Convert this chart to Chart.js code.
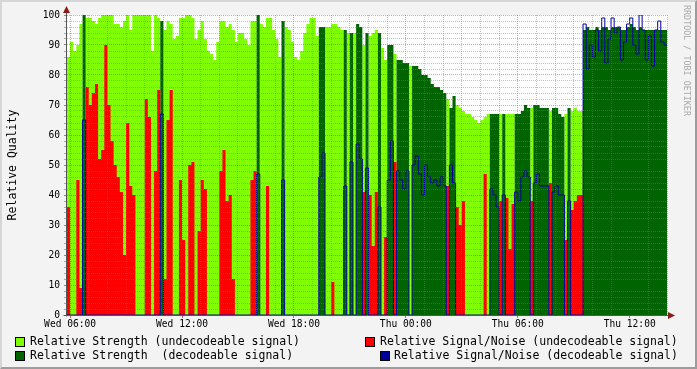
<!DOCTYPE html>
<html>
<head>
<meta charset="utf-8">
<script src="https://cdn.jsdelivr.net/npm/chart.js@4.4.1/dist/chart.umd.min.js"></script>
<style>
  html, body { margin: 0; padding: 0; background: #f3f3f3; }
  #wrap { position: relative; width: 697px; height: 369px; overflow: hidden; background: #f3f3f3; font-family: 'DejaVu Sans Mono', monospace; }
  #c { position: absolute; left: 0; top: 0; }
  .frame { position: absolute; left: 0; top: 0; width: 697px; height: 369px; box-sizing: border-box;
           border-top: 2px solid #d6d6d6; border-left: 2px solid #d6d6d6; border-right: 2px solid #9c9c9c; border-bottom: 2px solid #9c9c9c; pointer-events: none; }
  .ytitle { position: absolute; left: -88px; top: 157px; width: 200px; height: 16px; line-height: 16px; text-align: center;
            font-size: 11.5px; color: #000; transform: rotate(-90deg); transform-origin: 100px 8px; white-space: pre; }
  .credit { position: absolute; left: 692px; top: 5px; font-size: 8.4px; line-height: 10px; color: #a8a8a8; white-space: pre;
            transform: rotate(90deg); transform-origin: 0 0; }
  .leg { position: absolute; font-size: 11.5px; line-height: 14px; color: #000; white-space: pre; }
  .box { position: absolute; width: 8px; height: 8px; border: 1px solid #000; }
</style>
</head>
<body>
<div id="wrap">
  <canvas id="c" width="697" height="369"></canvas>
  <div class="ytitle">Relative Quality</div>
  <div class="credit">RRDTOOL / TOBI OETIKER</div>
  <div id="legend"></div>
  <div class="frame"></div>
</div>
<script>
// ---- data (10-minute samples starting Wed 05:50) ----
const startHour = 5 + 50 / 60;   // hours since Wed 00:00
const stepHours = 10 / 60;

const strength = [
  86, 91, 88, 90, 97,100, 99, 99, 98, 97, 99,100,100,100,100, 97, 97, 96, 98,100,
  95,100,100,100,100,100,100, 88,100, 99, 98, 95, 98, 97, 92, 93, 99, 99,100,100,
  99, 92, 95, 98, 92, 88, 87, 85, 91, 98, 98, 96, 97, 95, 91, 94, 94, 92, 90, 98,
  98,100, 97, 96, 99, 99, 95, 92, 86, 98, 96, 95, 91, 86, 85, 88, 94, 97, 99, 99,
  93, 96, 96, 96, 96, 97, 97, 96, 95, 95, 94, 94, 94, 97, 96, 90, 94, 93, 94, 95,
  94, 89, 85, 90, 90, 87, 85, 85, 84, 84, 83, 83, 83, 82, 80, 80, 79, 77, 76, 76,
  75, 74, 72, 69, 73, 70, 69, 68, 67, 67, 66, 65, 64, 65, 66, 67, 67, 67, 67, 67,
  67, 67, 67, 67, 67, 67, 68, 70, 69, 69, 70, 70, 69, 69, 69, 68, 69, 69, 67, 66,
  67, 69, 68, 69, 68, 68, 95, 96, 95, 95, 96, 95, 96, 96, 95, 96, 96, 96, 95, 95,
  96, 97, 96, 95, 96, 95, 95, 95, 95, 95, 95, 95, 95
];
const snr = [
  36,  0,  0, 45,  9, 65, 76, 70, 74, 77, 52, 55, 90, 70, 58, 50, 46, 41, 20, 64,
  43, 40,  0,  0,  0, 72, 66,  0, 48, 75, 67, 12, 65, 75,  0,  0, 45, 25,  0, 50,
  51,  0, 28, 45, 42,  0,  0,  0,  0, 48, 55, 38, 40, 12,  0,  0,  0,  0,  0, 45,
  48, 47,  0,  0, 43,  0,  0,  0,  0, 45,  0,  0,  0,  0,  0,  0,  0,  0,  0,  0,
   0, 46, 54,  0,  0, 11,  0,  0,  0, 43,  0, 51,  0, 57, 52, 41, 49, 40, 23, 41,
  36,  0, 26, 45, 58, 51, 48, 45, 42, 48,  0, 50, 53, 47, 40, 50, 46, 44, 45, 43,
  46, 43, 43, 50, 44, 36, 30, 38,  0,  0,  0,  0,  0,  0, 47,  0, 42, 40, 36, 38,
  40, 39, 22, 37, 41, 38, 46, 48, 46, 38, 44, 47, 43, 43, 43, 44, 41, 43, 40, 40,
  25, 38, 35, 38, 40, 40, 97, 82, 90, 86, 95, 88, 99, 84, 92, 99, 94, 96, 85, 91,
  97, 99, 90, 87,100, 95, 85, 93, 83, 95, 98, 91, 90
];
// 1 = decodeable signal, 0 = undecodeable signal
const decodeable = [
  0,0,0,0,0,1,0,0,0,0,0,0,0,0,0,0,0,0,0,0,
  0,0,0,0,0,0,0,0,0,0,1,0,0,0,0,0,0,0,0,0,
  0,0,0,0,0,0,0,0,0,0,0,0,0,0,0,0,0,0,0,0,
  0,1,0,0,0,0,0,0,0,1,0,0,0,0,0,0,0,0,0,0,
  0,1,1,0,0,0,0,0,0,1,0,1,0,1,1,0,1,0,0,0,
  1,0,0,1,1,0,1,1,1,1,0,1,1,1,1,1,1,1,1,1,
  1,1,0,1,1,0,0,0,0,0,0,0,0,0,0,0,1,1,1,0,
  1,0,0,0,1,1,1,1,1,0,1,1,1,1,1,0,1,1,1,1,
  0,1,0,0,0,0,1,1,1,1,1,1,1,1,1,1,1,1,1,1,
  1,1,1,1,1,1,1,1,1,1,1,1,1
];
const tickHours  = [6, 12, 18, 24, 30, 36];
const tickLabels = ['Wed 06:00', 'Wed 12:00', 'Wed 18:00', 'Thu 00:00', 'Thu 06:00', 'Thu 12:00'];
const legendItems = [
  'Relative Strength (undecodeable signal)',
  'Relative Signal/Noise (undecodeable signal)',
  'Relative Strength  (decodeable signal)',
  'Relative Signal/Noise (decodeable signal)'
];

// ---- styles ----
const C_LIGHT = '#80ff00', C_DARK = '#006400', C_RED = '#ff0000', C_BLUE = '#00009c';
const legendColors = [C_LIGHT, C_RED, C_DARK, C_BLUE];
const legendPos = [[15, 337, 30], [365, 337, 380], [15, 351, 30], [380, 351, 394]];
const legendEl = document.getElementById('legend');
legendItems.forEach((t, k) => {
  const [bx, by, tx] = legendPos[k];
  const b = document.createElement('div'); b.className = 'box';
  b.style.left = bx + 'px'; b.style.top = by + 'px'; b.style.background = legendColors[k];
  legendEl.appendChild(b);
  const d = document.createElement('div'); d.className = 'leg';
  d.style.left = tx + 'px'; d.style.top = (by - 3) + 'px'; d.textContent = t;
  legendEl.appendChild(d);
});

function series(vals, keep) {
  const pts = vals.map((v, i) => ({ x: startHour + i * stepHours, y: keep(i) ? v : 0 }));
  pts.push({ x: startHour + vals.length * stepHours, y: pts[pts.length - 1].y });
  return pts;
}
const isDec = i => decodeable[i] === 1;
const isUnd = i => decodeable[i] !== 1;

const endHour = startHour + strength.length * stepHours;
const hourTicks = [];
for (let h = Math.ceil(startHour); h <= Math.floor(endHour); h++) hourTicks.push(h);
const yTicks = [];
for (let v = 0; v <= 100; v += 2) yTicks.push(v);

const FONT = "'DejaVu Sans Mono', monospace";

const bgPlugin = {
  id: 'bg',
  beforeDraw(chart) {
    const { ctx, chartArea: a } = chart;
    ctx.save(); ctx.fillStyle = '#ffffff';
    ctx.fillRect(a.left, a.top, a.right - a.left, a.bottom - a.top);
    ctx.restore();
  },
  afterDraw(chart) {
    const { ctx, chartArea: a } = chart;
    ctx.save();
    ctx.strokeStyle = '#555555'; ctx.lineWidth = 1;
    const x0 = Math.round(a.left) - 0.5, y0 = Math.round(a.bottom) + 0.5;
    ctx.beginPath();
    ctx.moveTo(x0, y0 + 1); ctx.lineTo(x0, a.top - 6);
    ctx.moveTo(x0 - 3, y0); ctx.lineTo(a.right + 4, y0);
    ctx.stroke();
    ctx.fillStyle = '#8b1a1a';
    ctx.beginPath();
    ctx.moveTo(x0, a.top - 9); ctx.lineTo(x0 - 3.5, a.top - 2); ctx.lineTo(x0 + 3.5, a.top - 2); ctx.closePath(); ctx.fill();
    ctx.beginPath();
    ctx.moveTo(a.right + 8, y0); ctx.lineTo(a.right + 1, y0 - 3.5); ctx.lineTo(a.right + 1, y0 + 3.5); ctx.closePath(); ctx.fill();
    ctx.restore();
  }
};

const MAJOR = 'rgba(210,0,0,0.38)', MINOR = 'rgba(120,120,120,0.45)';

new Chart(document.getElementById('c'), {
  type: 'line',
  data: {
    datasets: [
      { label: legendItems[3], data: series(snr, isDec), borderColor: C_BLUE, borderWidth: 1, fill: false, stepped: 'before', pointRadius: 0, order: 0 },
      { label: legendItems[1], data: series(snr, isUnd), borderColor: 'transparent', borderWidth: 0, backgroundColor: C_RED, fill: 'origin', stepped: 'before', pointRadius: 0, order: 1 },
      { label: legendItems[2], data: series(strength, isDec), borderColor: 'transparent', borderWidth: 0, backgroundColor: C_DARK, fill: 'origin', stepped: 'before', pointRadius: 0, order: 2 },
      { label: legendItems[0], data: series(strength, isUnd), borderColor: 'transparent', borderWidth: 0, backgroundColor: C_LIGHT, fill: 'origin', stepped: 'before', pointRadius: 0, order: 3 }
    ]
  },
  options: {
    responsive: false,
    animation: false,
    events: [],
    layout: { padding: { left: 0, right: 30, top: 15, bottom: 34 } },
    plugins: { legend: { display: false }, tooltip: { enabled: false }, title: { display: false } },
    elements: { line: { tension: 0 } },
    scales: {
      x: {
        type: 'linear', min: startHour, max: endHour,
        afterBuildTicks: s => { s.ticks = hourTicks.map(v => ({ value: v })); },
        afterFit: s => { s.height = 20; s.paddingLeft = 0; s.paddingRight = 0; },
        ticks: {
          autoSkip: false, maxRotation: 0, padding: 1, color: '#000',
          font: { family: FONT, size: 9.6 },
          callback: v => { const k = tickHours.indexOf(v); return k >= 0 ? tickLabels[k] : ''; }
        },
        grid: {
          z: 1, lineWidth: 1, tickLength: 3,
          color: c => tickHours.includes(c.tick.value) ? MAJOR : MINOR,
          tickColor: c => tickHours.includes(c.tick.value) ? 'rgba(200,0,0,0.6)' : 'transparent'
        },
        border: { display: false, dash: [1, 1] }
      },
      y: {
        type: 'linear', min: 0, max: 100,
        afterBuildTicks: s => { s.ticks = yTicks.map(v => ({ value: v })); },
        afterFit: s => { s.width = 67; s.paddingTop = 0; s.paddingBottom = 0; },
        ticks: {
          autoSkip: false, padding: 4, color: '#000',
          font: { family: FONT, size: 9.6 },
          callback: v => (v % 10 === 0 ? String(v) : '')
        },
        grid: {
          z: 1, lineWidth: 1, tickLength: 3,
          color: c => (c.tick.value === 0 ? 'transparent' : (c.tick.value % 10 === 0 ? MAJOR : MINOR)),
          tickColor: c => (c.tick.value % 10 === 0 ? '#888' : '#aaa')
        },
        border: { display: false, dash: [1, 1] }
      }
    }
  },
  plugins: [bgPlugin]
});
</script>
</body>
</html>
